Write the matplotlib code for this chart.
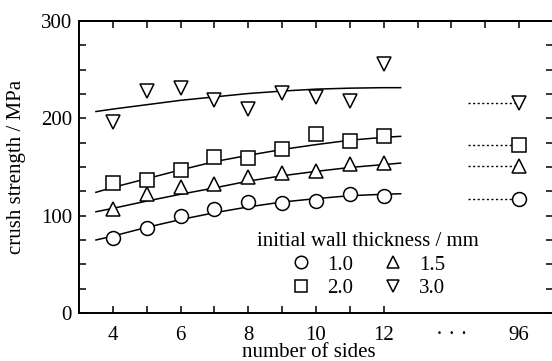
import numpy as np
import matplotlib
matplotlib.use("Agg")
import matplotlib.pyplot as plt

plt.rcParams['font.family'] = ['Liberation Serif', 'DejaVu Serif']
plt.rcParams['font.size'] = 15

# measured points (number of sides 4..12), 96 sides drawn at axis position 16
sides = [4, 5, 6, 7, 8, 9, 10, 11, 12]
pos_96 = 16
s_10 = [77, 87, 100, 107, 114, 113, 115, 122, 120]
s_15 = [107, 122, 129, 133, 140, 144, 146, 153, 154]
s_20 = [134, 137, 147, 160, 159, 169, 184, 177, 182]
s_30 = [196, 228, 231, 219, 210, 226, 222, 218, 256]
s96_10, s96_15, s96_20, s96_30 = 117, 151, 173, 216

# fitted curves
fit_x = [3.5, 4, 5, 6, 7, 8, 9, 10, 11, 12, 12.5]
fit_10 = [75, 79, 88, 96, 103, 109, 114, 117.5, 120.5, 122, 122.5]
fit_15 = [104, 107.5, 115, 122, 128.5, 135.5, 141, 145.5, 149.5, 152.5, 154]
fit_20 = [124, 129, 138, 147, 155.5, 162, 168, 173, 177.5, 180.5, 181.5]
fit_30 = [207, 209.5, 214, 218.5, 222, 225.5, 228, 230, 231, 231.5, 231.5]

labels = ["1.0", "1.5", "2.0", "3.0"]
markers = ["o", "^", "s", "v"]

fig = plt.figure(figsize=(5.52, 3.61), dpi=100)
ax = fig.add_axes([79 / 552, 1 - 313 / 361, (553 - 79) / 552, (313 - 21) / 361])

mk = dict(markersize=10, markerfacecolor="white", markeredgecolor="black",
          markeredgewidth=1.1, linestyle="none", zorder=3)
series = [(s_10, fit_10, s96_10), (s_15, fit_15, s96_15),
          (s_20, fit_20, s96_20), (s_30, fit_30, s96_30)]
for (pts, fit, v96), m, lab in zip(series, markers, labels):
    ax.plot(fit_x, fit, color="black", lw=1.1, zorder=2)
    ax.plot(sides, pts, marker=m, label=lab, **mk)
    ax.plot([14.5, pos_96], [v96, v96], color="black", lw=1.0,
            linestyle=(0, (1.5, 1.8)), zorder=2)
    ax.plot([pos_96], [v96], marker=m, **mk)

ax.set_xlim(3, 17)
ax.set_ylim(0, 300)

for sp in ax.spines.values():
    sp.set_linewidth(1.4)

ax.set_xticks([4, 6, 8, 10, 12])
ax.set_xticks([5, 7, 9, 11], minor=True)
ax.set_yticks([0, 100, 200, 300])
ax.set_yticks(np.arange(0, 301, 25), minor=True)
ax.tick_params(which="both", direction="in", length=5, width=1.1,
               top=False, right=False)
ax.tick_params(axis="x", which="major", pad=9)
ax.tick_params(axis="y", which="major", pad=5)

# "..." and 96 labels with no tick marks
sec_b = ax.secondary_xaxis("bottom")
sec_b.set_xticks([14, 16], ["· · ·", "96"])
sec_b.tick_params(direction="in", length=0, pad=9)
sec_b.spines["bottom"].set_visible(False)

sec_t = ax.secondary_xaxis("top")
sec_t.set_xticks(range(4, 17))
sec_t.tick_params(direction="in", length=5, width=1.1, labeltop=False)
sec_t.spines["top"].set_linewidth(1.4)

sec_r = ax.secondary_yaxis("right")
sec_r.set_yticks(np.arange(0, 301, 25))
sec_r.tick_params(direction="in", length=5, width=1.1, labelright=False)
sec_r.spines["right"].set_linewidth(1.4)

ax.set_xlabel("number of sides")
ax.xaxis.set_label_coords(0.484, -0.104)
ax.set_ylabel("crush strength / MPa")
ax.yaxis.set_label_coords(-0.112, 0.5)

handles, labs = ax.get_legend_handles_labels()
order = [0, 2, 1, 3]
ax.legend([handles[i] for i in order], [labs[i] for i in order],
          title="initial wall thickness / mm", title_fontsize=15,
          ncol=2, frameon=False, loc="center", bbox_to_anchor=(0.609, 0.164),
          handlelength=1.0, handletextpad=0.75, columnspacing=1.42,
          labelspacing=0.2, borderpad=0, markerscale=0.9)

fig.savefig("out.png", dpi=100)
